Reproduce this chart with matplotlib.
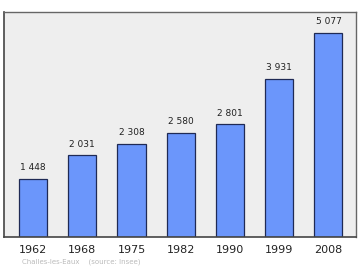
import matplotlib.pyplot as plt
import numpy as np

# --- dati ---
anni = ['1962', '1968', '1975', '1982', '1990', '1999', '2008']
popolazione = [1448, 2031, 2308, 2580, 2801, 3931, 5077]
etichette = ['1 448', '2 031', '2 308', '2 580', '2 801', '3 931', '5 077']
fonte = 'Challes-les-Eaux    (source: Insee)'

fig = plt.figure(figsize=(3.6, 2.7), dpi=100)
ax = fig.add_axes([0.011, 0.122, 0.978, 0.834])
ax.set_facecolor('#eeeeee')

x = np.arange(len(anni))
ax.bar(x, popolazione, width=0.57, color='#6b96fb', edgecolor='#1f2a55', linewidth=0.9, zorder=2)

for xi, v, lab in zip(x, popolazione, etichette):
    ax.text(xi, v + 170, lab, ha='center', va='bottom', fontsize=6.5, color='#222222')

ax.set_xlim(-0.59, 6.56)
ax.set_ylim(0, 5600)
ax.set_xticks(x)
ax.set_xticklabels(anni, fontsize=8, color='#222222')
ax.tick_params(axis='x', length=0, pad=6)
ax.set_yticks([])

for lato in ['left', 'bottom']:
    ax.spines[lato].set_color('#444444')
    ax.spines[lato].set_linewidth(1.2)
for lato in ['top', 'right']:
    ax.spines[lato].set_color('#666666')
    ax.spines[lato].set_linewidth(1.0)

fig.text(22 / 360, 1 - 262 / 270, fonte, fontsize=5.0, color='#bbbbbb', va='center', ha='left')

plt.savefig('out.png', dpi=100)
